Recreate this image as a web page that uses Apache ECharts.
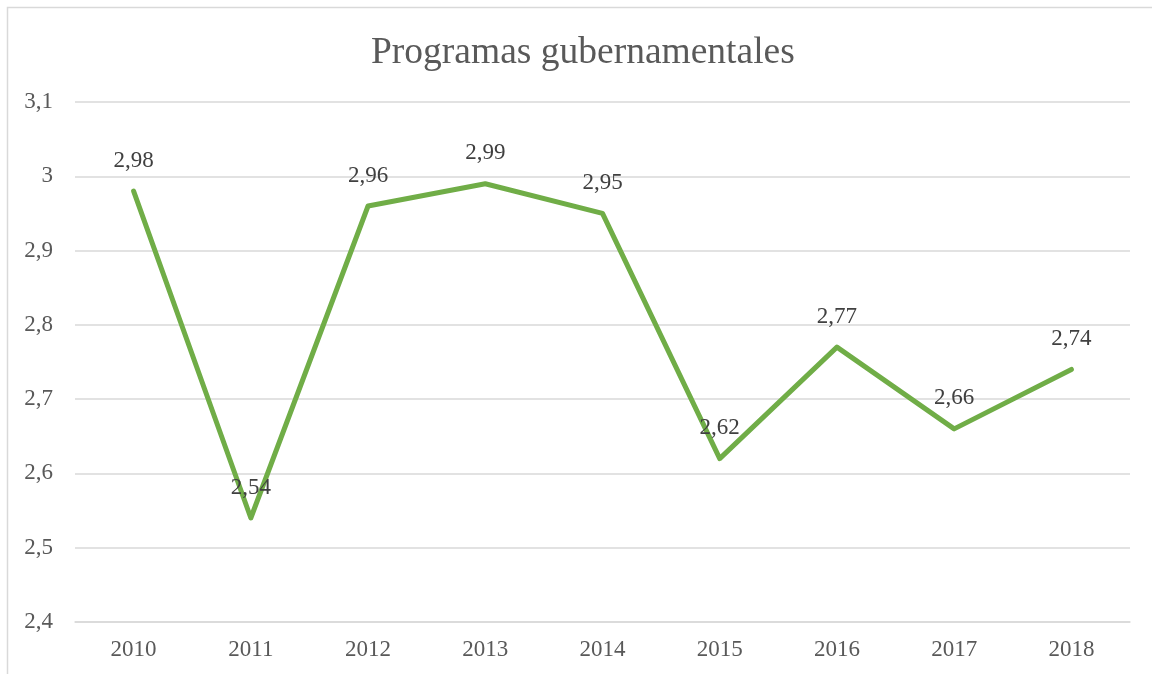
<!DOCTYPE html>
<html>
<head>
<meta charset="utf-8">
<script src="https://cdn.jsdelivr.net/npm/echarts@6/dist/echarts.min.js"></script>
<style>
  html, body { margin: 0; padding: 0; background: #fff; }
  #chart { width: 1152px; height: 674px; }
</style>
</head>
<body>
<div id="chart"></div>
<script>
const years = ['2010', '2011', '2012', '2013', '2014', '2015', '2016', '2017', '2018'];
const valores = [2.98, 2.54, 2.96, 2.99, 2.95, 2.62, 2.77, 2.66, 2.74];
const yMin = 2.4;
const yMax = 3.1;
const yStep = 0.1;

const fuente = '"Liberation Serif", "Times New Roman", serif';
const fmtComa = (v) => String(Math.round(v * 100) / 100).replace('.', ',');

const myChart = echarts.init(document.getElementById('chart'), null, { renderer: 'canvas' });

const option = {
  animation: false,
  backgroundColor: '#fff',
  title: {
    text: 'Programas gubernamentales',
    left: 366,
    top: 29,
    textStyle: { fontFamily: fuente, fontSize: 37.5, fontWeight: 'normal', color: '#595959' }
  },
  graphic: [{
    type: 'rect',
    shape: { x: 7.5, y: 7.5, width: 1200, height: 700 },
    style: { fill: 'none', stroke: '#d9d9d9', lineWidth: 1.5 },
    silent: true
  }],
  grid: { left: 75, right: 22, top: 102, bottom: 52 },
  xAxis: {
    type: 'category',
    data: years,
    axisLine: { lineStyle: { color: '#d9d9d9', width: 1.5 } },
    axisTick: { show: false },
    axisLabel: { fontFamily: fuente, fontSize: 23, color: '#595959', margin: 16 }
  },
  yAxis: {
    type: 'value',
    min: yMin,
    max: yMax,
    interval: yStep,
    axisLine: { show: false },
    axisTick: { show: false },
    splitLine: { lineStyle: { color: '#d9d9d9', width: 1.5 } },
    axisLabel: { fontFamily: fuente, fontSize: 23, color: '#595959', margin: 22, formatter: fmtComa }
  },
  series: [{
    type: 'line',
    data: valores,
    symbol: 'circle',
    symbolSize: 2,
    showSymbol: true,
    lineStyle: { color: '#70ad47', width: 5, cap: 'round', join: 'round' },
    itemStyle: { color: '#70ad47' },
    label: {
      show: true,
      position: 'top',
      distance: 18,
      fontFamily: fuente,
      fontSize: 23,
      color: '#404040',
      formatter: (p) => fmtComa(p.value)
    }
  }]
};

myChart.setOption(option);
window.addEventListener('resize', myChart.resize);
</script>
</body>
</html>
